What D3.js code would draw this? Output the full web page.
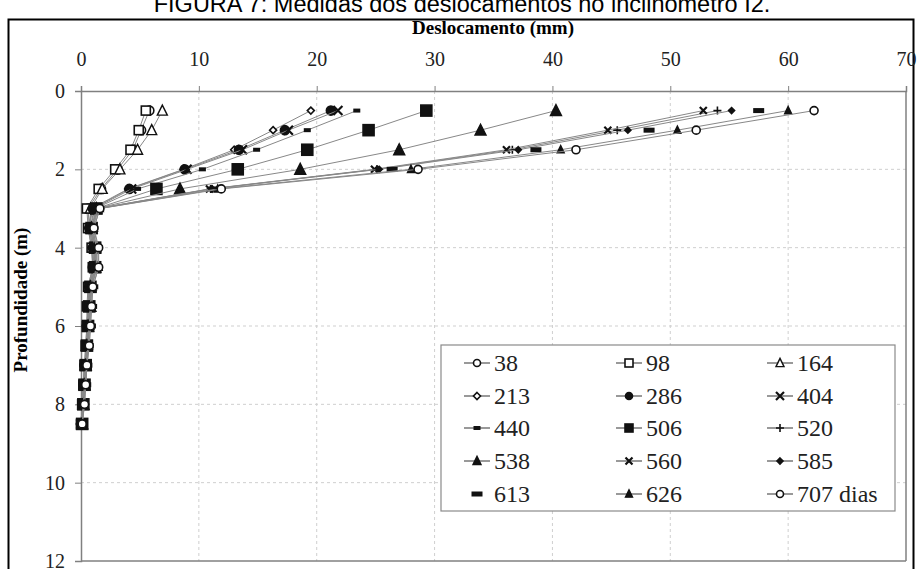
<!DOCTYPE html>
<html>
<head>
<meta charset="utf-8">
<script src="https://cdn.jsdelivr.net/npm/d3@7"></script>
<style>
  body { margin: 0; background: #fff; }
  svg { display: block; }
  .serif { font-family: "Liberation Serif", "Times New Roman", serif; }
</style>
</head>
<body>
<svg id="chart"></svg>
<script>
// Profundidades (m)
const depths = [0.5, 1, 1.5, 2, 2.5, 3, 3.5, 4, 4.5, 5, 5.5, 6, 6.5, 7, 7.5, 8, 8.5];

// Deslocamentos (mm) por leitura (dias)
const d38  = [5.8, 5.1, 4.4, 3.1, 1.7, 0.6, 0.7, 1.0, 1.1, 0.7, 0.6, 0.5, 0.5, 0.3, 0.2, 0.1, 0.0];
const d98  = [5.5, 4.9, 4.2, 2.9, 1.5, 0.5, 0.6, 0.9, 1.0, 0.6, 0.5, 0.5, 0.4, 0.3, 0.2, 0.1, 0.0];
const d164 = [6.9, 6.0, 4.8, 3.3, 1.8, 0.8, 0.8, 1.1, 1.2, 0.8, 0.7, 0.6, 0.5, 0.4, 0.3, 0.2, 0.1];
const d213 = [19.5, 16.3, 13.0, 8.7, 4.0, 0.9, 0.6, 0.9, 1.0, 0.6, 0.6, 0.5, 0.4, 0.3, 0.2, 0.1, 0.0];
const d286 = [21.2, 17.3, 13.4, 8.8, 4.1, 1.0, 0.7, 1.0, 1.0, 0.7, 0.6, 0.5, 0.5, 0.3, 0.2, 0.1, 0.0];
const d404 = [21.8, 17.6, 13.7, 9.0, 4.3, 1.1, 0.8, 1.1, 1.1, 0.7, 0.7, 0.6, 0.5, 0.4, 0.3, 0.1, 0.0];
const d440 = [23.4, 19.2, 14.9, 10.3, 4.8, 1.2, 0.8, 1.1, 1.2, 0.8, 0.7, 0.6, 0.5, 0.4, 0.3, 0.2, 0.0];
const d506 = [29.3, 24.4, 19.2, 13.3, 6.4, 1.3, 0.9, 1.2, 1.2, 0.8, 0.7, 0.6, 0.5, 0.4, 0.3, 0.2, 0.1];
const d520 = [54.0, 45.5, 36.6, 25.1, 11.0, 1.4, 0.9, 1.2, 1.3, 0.9, 0.8, 0.7, 0.6, 0.4, 0.3, 0.2, 0.1];
const d538 = [40.3, 33.9, 27.0, 18.6, 8.4, 1.3, 0.9, 1.2, 1.2, 0.8, 0.8, 0.6, 0.5, 0.4, 0.3, 0.2, 0.1];
const d560 = [52.8, 44.7, 36.1, 24.9, 10.9, 1.4, 1.0, 1.3, 1.3, 0.9, 0.8, 0.7, 0.6, 0.5, 0.3, 0.2, 0.1];
const d585 = [55.2, 46.4, 37.1, 25.3, 11.1, 1.5, 1.0, 1.3, 1.4, 0.9, 0.8, 0.7, 0.6, 0.5, 0.4, 0.2, 0.1];
const d613 = [57.5, 48.2, 38.6, 26.4, 11.3, 1.5, 1.0, 1.4, 1.4, 1.0, 0.9, 0.8, 0.6, 0.5, 0.4, 0.2, 0.1];
const d626 = [60.0, 50.6, 40.7, 28.0, 11.6, 1.6, 1.1, 1.4, 1.5, 1.0, 0.9, 0.8, 0.7, 0.5, 0.4, 0.3, 0.1];
const d707 = [62.2, 52.2, 42.0, 28.6, 11.9, 1.6, 1.1, 1.5, 1.5, 1.0, 0.9, 0.8, 0.7, 0.5, 0.4, 0.3, 0.1];

const labels = ["38", "98", "164", "213", "286", "404", "440", "506", "520", "538", "560", "585", "613", "626", "707 dias"];
const seriesValues = [d38, d98, d164, d213, d286, d404, d440, d506, d520, d538, d560, d585, d613, d626, d707];

const xTicks = [0, 10, 20, 30, 40, 50, 60, 70];
const yTicks = [0, 2, 4, 6, 8, 10, 12];

// forme des marqueurs
const markers = [
  { type: "circle", r: 4.5, fill: "#fff" },
  { type: "square", s: 9, fill: "#fff" },
  { type: "triangle", s: 10, fill: "#fff" },
  { type: "diamond", s: 7, fill: "#fff" },
  { type: "circle", r: 4.5, fill: "#111" },
  { type: "x", s: 9 },
  { type: "dash", w: 7, h: 4 },
  { type: "square", s: 11, fill: "#111" },
  { type: "plus", s: 8 },
  { type: "triangle", s: 11, fill: "#111" },
  { type: "x", s: 7 },
  { type: "diamond", s: 6, fill: "#111" },
  { type: "dash", w: 11, h: 5 },
  { type: "triangle", s: 7, fill: "#111" },
  { type: "circle", r: 4, fill: "#fff" },
];
const noLine = [false, false, false, false, false, false, false, false, false, false, false, false, true, false, false];

const width = 921, height = 569;
const svg = d3.select("#chart").attr("width", width).attr("height", height);

const pLeft = 81, pRight = 906, pTop = 91, pBottom = 561;

const x = d3.scaleLinear().domain([0, 70]).range([pLeft, pRight]);
const y = d3.scaleLinear().domain([0, 12]).range([pTop, pBottom]);

// titre coupé
svg.append("text")
  .attr("x", 462).attr("y", 12)
  .attr("text-anchor", "middle")
  .attr("font-family", "Liberation Sans, Arial, sans-serif")
  .attr("font-size", 23.5)
  .text("FIGURA 7: Medidas dos deslocamentos no inclinômetro I2.");

// cadre extérieur
svg.append("rect")
  .attr("x", 8.5).attr("y", 19.5)
  .attr("width", 905).attr("height", 560)
  .attr("fill", "#fff").attr("stroke", "#000").attr("stroke-width", 2);

// grille
const grid = svg.append("g").attr("stroke", "#cfcfcf").attr("stroke-dasharray", "3,3").attr("stroke-width", 1);
grid.selectAll("line.v").data(xTicks.slice(1, -1)).enter().append("line")
  .attr("x1", d => x(d)).attr("x2", d => x(d)).attr("y1", pTop).attr("y2", pBottom);
grid.selectAll("line.h").data(yTicks.slice(1, -1)).enter().append("line")
  .attr("y1", d => y(d)).attr("y2", d => y(d)).attr("x1", pLeft).attr("x2", pRight);

// axes
const xAxis = svg.append("g").attr("transform", `translate(0,${pTop})`)
  .call(d3.axisTop(x).tickValues(xTicks).tickSize(5).tickPadding(20));
const yAxis = svg.append("g").attr("transform", `translate(${pLeft},0)`)
  .call(d3.axisLeft(y).tickValues(yTicks).tickSize(6).tickPadding(10));
[xAxis, yAxis].forEach(a => {
  a.attr("font-family", null).attr("font-size", null);
  a.select(".domain").attr("stroke", "#808080").attr("stroke-width", 1.5);
  a.selectAll(".tick line").attr("stroke", "#808080");
  a.selectAll(".tick text").attr("class", "serif").attr("font-size", 20).attr("fill", "#222");
});

// bords droit et bas
svg.append("line").attr("x1", pRight).attr("x2", pRight).attr("y1", pTop).attr("y2", pBottom)
  .attr("stroke", "#808080").attr("stroke-width", 1.5);
svg.append("line").attr("x1", pLeft).attr("x2", pRight).attr("y1", pBottom).attr("y2", pBottom)
  .attr("stroke", "#808080").attr("stroke-width", 1.5);

// titres des axes
svg.append("text")
  .attr("class", "serif")
  .attr("x", 493).attr("y", 34)
  .attr("text-anchor", "middle")
  .attr("font-weight", "bold").attr("font-size", 19)
  .text("Deslocamento (mm)");
svg.append("text")
  .attr("class", "serif")
  .attr("transform", "rotate(-90)")
  .attr("x", -300).attr("y", 27)
  .attr("text-anchor", "middle")
  .attr("font-weight", "bold").attr("font-size", 19)
  .text("Profundidade (m)");

function drawMarker(sel, m) {
  if (m.type === "circle") {
    sel.append("circle").attr("r", m.r).attr("fill", m.fill).attr("stroke", "#111").attr("stroke-width", 1.6);
  } else if (m.type === "square") {
    sel.append("rect").attr("x", -m.s / 2).attr("y", -m.s / 2).attr("width", m.s).attr("height", m.s)
      .attr("fill", m.fill).attr("stroke", "#111").attr("stroke-width", 1.6);
  } else if (m.type === "triangle") {
    const h = m.s * 0.9;
    sel.append("path").attr("d", `M0,${-h / 2 - 1}L${m.s / 2},${h / 2}L${-m.s / 2},${h / 2}Z`)
      .attr("fill", m.fill).attr("stroke", "#111").attr("stroke-width", 1.4);
  } else if (m.type === "diamond") {
    const s = m.s / 2;
    sel.append("path").attr("d", `M0,${-s}L${s},0L0,${s}L${-s},0Z`)
      .attr("fill", m.fill).attr("stroke", "#111").attr("stroke-width", 1.6);
  } else if (m.type === "x") {
    const s = m.s / 2;
    sel.append("path").attr("d", `M${-s},${-s}L${s},${s}M${-s},${s}L${s},${-s}`)
      .attr("stroke", "#111").attr("stroke-width", 2.2);
  } else if (m.type === "plus") {
    const s = m.s / 2;
    sel.append("path").attr("d", `M${-s},0L${s},0M0,${-s}L0,${s}`)
      .attr("stroke", "#111").attr("stroke-width", 1.6);
  } else if (m.type === "dash") {
    sel.append("rect").attr("x", -m.w / 2).attr("y", -m.h / 2).attr("width", m.w).attr("height", m.h)
      .attr("fill", "#111");
  }
}

const line = d3.line().x(d => x(d[1])).y(d => y(d[0]));

// séries
seriesValues.forEach((vals, i) => {
  const pts = depths.map((d, j) => [d, vals[j]]);
  const g = svg.append("g");
  if (!noLine[i]) {
    g.append("path").datum(pts)
      .attr("fill", "none").attr("stroke", "#888").attr("stroke-width", 1)
      .attr("d", line);
  }
  g.selectAll("g.m").data(pts).enter().append("g")
    .attr("transform", d => `translate(${x(d[1])},${y(d[0])})`)
    .each(function () { drawMarker(d3.select(this), markers[i]); });
});

// légende
const lg = svg.append("g");
lg.append("rect").attr("x", 441).attr("y", 345).attr("width", 454).attr("height", 166)
  .attr("fill", "#fff").attr("stroke", "#8a8a8a").attr("stroke-width", 1.2);
const colX = [477, 629, 780];
const rowY = [363, 396, 428, 461, 494];
labels.forEach((lab, i) => {
  const cx = colX[i % 3], cy = rowY[Math.floor(i / 3)];
  const item = lg.append("g");
  if (!noLine[i]) {
    item.append("line").attr("x1", cx - 13).attr("x2", cx + 13).attr("y1", cy).attr("y2", cy)
      .attr("stroke", "#555").attr("stroke-width", 1.2);
  }
  const m = Object.assign({}, markers[i]);
  if (m.r) m.r = Math.min(m.r, 3.5);
  if (m.s) m.s = Math.min(m.s, 8);
  drawMarker(item.append("g").attr("transform", `translate(${cx},${cy})`), m);
  item.append("text").attr("class", "serif").attr("x", cx + 17).attr("y", cy + 8)
    .attr("font-size", 24).attr("fill", "#222")
    .text(lab);
});
</script>
</body>
</html>
